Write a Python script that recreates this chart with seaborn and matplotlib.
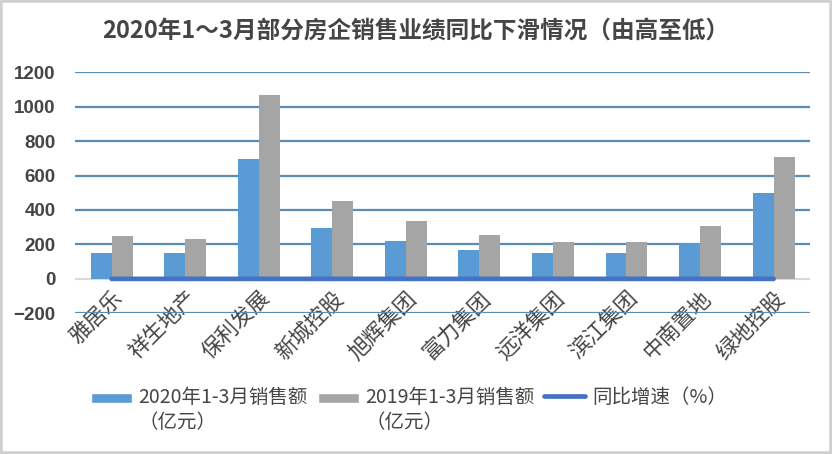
import matplotlib
matplotlib.use("Agg")
import matplotlib.pyplot as plt
import seaborn as sns
import pandas as pd
from matplotlib.patches import Patch, Rectangle
from matplotlib.lines import Line2D
from matplotlib.legend_handler import HandlerPatch

companies = ["雅居乐", "祥生地产", "保利发展", "新城控股", "旭辉集团",
             "富力集团", "远洋集团", "滨江集团", "中南置地", "绿地控股"]
sales_2020 = [151, 151, 697, 297, 222, 170, 152, 152, 210, 500]
sales_2019 = [251, 232, 1068, 454, 338, 257, 216, 216, 305, 709]
yoy_growth = [-0.40, -0.35, -0.35, -0.35, -0.34, -0.34, -0.30, -0.30, -0.31, -0.29]

label_2020 = "2020年1-3月销售额\n（亿元）"
label_2019 = "2019年1-3月销售额\n（亿元）"
label_yoy = "同比增速（%）"
title = "2020年1～3月部分房企销售业绩同比下滑情况（由高至低）"
yticks = [-200, 0, 200, 400, 600, 800, 1000, 1200]

sns.set_theme(style="white")
plt.rcParams["font.family"] = ["Noto Sans CJK SC", "DejaVu Sans"]

df = pd.DataFrame({
    "company": companies * 2,
    "sales": sales_2020 + sales_2019,
    "series": [label_2020] * len(companies) + [label_2019] * len(companies),
})
df_line = pd.DataFrame({"company": companies, "yoy": yoy_growth})

blue = "#5B9BD5"
gray = "#A5A5A5"
line_blue = "#4472C4"
text_col = "#454545"

fig = plt.figure(figsize=(8.32, 4.54), dpi=100)
ax = fig.add_axes([0.09, 0.31, 0.884, 0.531])

sns.barplot(data=df, x="company", y="sales", hue="series",
            palette=[blue, gray], width=0.57, gap=0, ax=ax, saturation=1,
            legend=False, zorder=3, linewidth=0, edgecolor="none")
sns.lineplot(data=df_line, x="company", y="yoy", color=line_blue,
             linewidth=3.4, ax=ax, legend=False, zorder=4)

ax.set_ylim(-200, 1200)
ax.set_xlim(-0.5, len(companies) - 0.5)
ax.set_yticks(yticks)
for y in yticks:
    if y == 0:
        ax.axhline(0, color="#D9D9D9", lw=1.5, zorder=2)
    else:
        ax.axhline(y, color="#5A8DB5", lw=1.6, zorder=1)

for s in ax.spines.values():
    s.set_visible(False)
ax.spines["bottom"].set_position(("data", 0))
ax.set_xlabel("")
ax.set_ylabel("")
ax.tick_params(axis="y", length=0, pad=14, labelsize=13.5, labelcolor=text_col)
ax.tick_params(axis="x", length=0, pad=6)
for t in ax.get_yticklabels():
    t.set_fontweight("bold")
    t.set_family(["Liberation Sans", "DejaVu Sans"])
ax.set_xticks(range(len(companies)))
ax.set_xticklabels(companies, rotation=45, ha="right", rotation_mode="anchor",
                   fontsize=15.5, color=text_col)

fig.text(0.5, 1 - 31 / 454, title, ha="center", va="center",
         fontsize=17, fontweight="bold", color=text_col)

LEG_FS = 14


def top_rect(legend, orig_handle, xdescent, ydescent, width, height, fontsize):
    return Rectangle((-xdescent, -ydescent + height * 0.22), width, height * 0.5)


handles = [Patch(facecolor=blue, label=label_2020),
           Patch(facecolor=gray, label=label_2019),
           Line2D([0], [0], color=line_blue, lw=3.4, label=label_yoy)]
leg = fig.legend(handles=handles, loc="center", ncol=3,
                 bbox_to_anchor=(409 / 832, 1 - 410 / 454), frameon=False,
                 fontsize=LEG_FS, handlelength=2.1, handleheight=1.2,
                 columnspacing=0.5, handletextpad=0.35, labelcolor=text_col,
                 handler_map={Patch: HandlerPatch(patch_func=top_rect)})
leg._legend_handle_box.align = "top"
for col in leg._legend_handle_box.get_children():
    col.align = "left"
    for item in col.get_children():
        item.align = "top"

fig.patches.append(plt.Rectangle((0, 0), 1, 1, transform=fig.transFigure,
                                 fill=False, edgecolor="#D0D0D0", lw=4))
fig.savefig("out.png", dpi=100, facecolor="white")
